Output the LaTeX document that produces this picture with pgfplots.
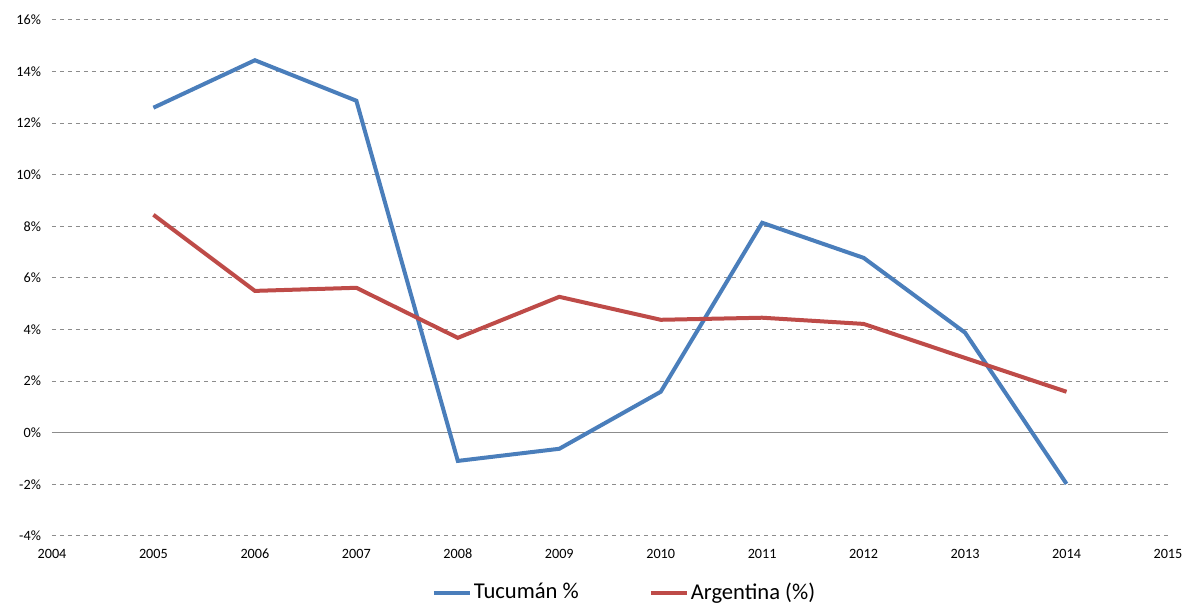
\documentclass[border=0pt]{standalone}
\usepackage{fontspec}
\setmainfont{Carlito}
\usepackage{pgfplots}
\pgfplotsset{compat=1.18}
\definecolor{tblue}{HTML}{4A7EBB}
\definecolor{ared}{HTML}{BE4B48}
\definecolor{gridg}{HTML}{8C8C8C}
\begin{document}
\begin{tikzpicture}
\begin{axis}[
  at={(0,0)}, anchor=south west,
  scale only axis, width=558pt, height=258pt,
  xmin=2004, xmax=2015, ymin=-4, ymax=16,
  xtick={2004,2005,...,2015}, ytick={-4,-2,...,16},
  axis line style={draw=none},
  major tick length=0pt,
  ymajorgrids, grid style={gridg, line width=0.5pt, dash pattern=on 2pt off 2pt},
  extra y ticks={0}, extra y tick labels={},
  extra y tick style={grid style={solid, gridg, line width=0.7pt}},
  /pgf/number format/assume math mode=true,
  /pgf/number format/1000 sep={},
  xticklabel style={font=\fontsize{7.1}{8}\selectfont, yshift=-3pt},
  yticklabel style={font=\fontsize{7.1}{8}\selectfont, xshift=-2pt},
  yticklabel={\pgfmathprintnumber{\tick}\%},
  legend columns=2,
  legend style={draw=none, at={(0.513,-0.11)}, anchor=center, font=\fontsize{11.3}{13}\selectfont,
    nodes={inner xsep=1pt},
    /tikz/every even column/.append style={column sep=34pt}},
  legend image code/.code={\draw[#1, line width=2pt] (0pt,0pt) -- (18pt,0pt);},
  clip=false,
]
\addplot[tblue, line width=2pt] coordinates {
(2005,12.6) (2006,14.44) (2007,12.87) (2008,-1.09) (2009,-0.62) (2010,1.59) (2011,8.14) (2012,6.78) (2013,3.88) (2014,-1.98)};
\addlegendentry{Tucumán \%}
\addplot[ared, line width=2pt] coordinates {
(2005,8.45) (2006,5.5) (2007,5.62) (2008,3.68) (2009,5.27) (2010,4.38) (2011,4.46) (2012,4.22) (2013,2.9) (2014,1.59)};
\addlegendentry{Argentina (\%)}
\end{axis}
\pgfresetboundingbox
\path (-26pt,-33.5pt) rectangle (567.5pt,268pt);
\end{tikzpicture}
\end{document}
